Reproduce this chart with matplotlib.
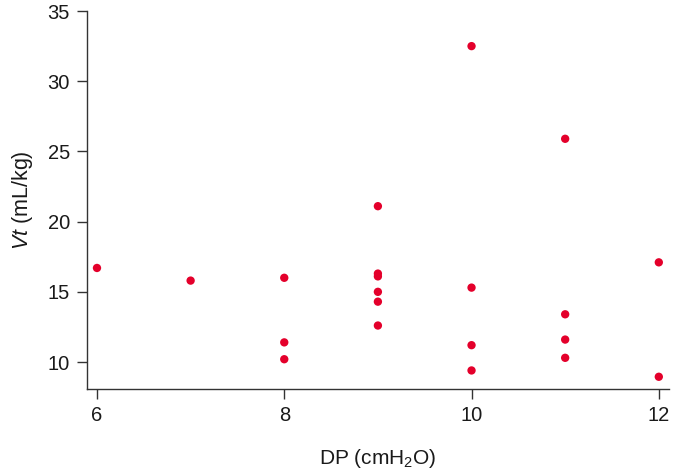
import numpy as np
import matplotlib.pyplot as plt

plt.rcParams['font.family'] = ['Liberation Sans', 'DejaVu Sans']
plt.rcParams['mathtext.fontset'] = 'custom'
plt.rcParams['mathtext.rm'] = 'Liberation Sans'
plt.rcParams['mathtext.it'] = 'Liberation Sans:italic'

# DP (cmH2O) and Vt (mL/kg) per patient
dp = [6, 7, 8, 8, 8, 9, 9, 9, 9, 9, 9, 10, 10, 10, 10, 11, 11, 11, 11, 12, 12]
vt = [16.7, 15.8, 16.0, 11.4, 10.2, 21.1, 16.3, 16.1, 15.0, 14.3, 12.6,
      32.5, 15.3, 11.2, 9.4, 25.9, 13.4, 11.6, 10.3, 17.1, 8.95]

x_ticks = [6, 8, 10, 12]
y_ticks = [10, 15, 20, 25, 30, 35]

fig = plt.figure(figsize=(6.73, 4.69), dpi=100)
ax = fig.add_axes([0.1288, 0.170, 0.865, 0.8065])

ax.scatter(dp, vt, s=36, color='#E4002B', edgecolors='none', zorder=3)

ax.set_xlim(5.89, 12.107)
ax.set_ylim(8.06, 35)
ax.set_xticks(x_ticks)
ax.set_yticks(y_ticks)

for side in ['top', 'right']:
    ax.spines[side].set_visible(False)
for side in ['left', 'bottom']:
    ax.spines[side].set_color('#333333')
    ax.spines[side].set_linewidth(1.0)

ax.tick_params(axis='both', direction='out', length=7, width=1.0,
               color='#333333', labelsize=14.5, labelcolor='#1a1a1a', pad=5)

ax.set_xlabel('DP (cmH$_2$O)', fontsize=15, color='#1a1a1a', labelpad=16)
ax.set_ylabel(r'$\it{Vt}$ (mL/kg)', fontsize=15.5, color='#1a1a1a', labelpad=9)

fig.savefig('out.png', dpi=100)
